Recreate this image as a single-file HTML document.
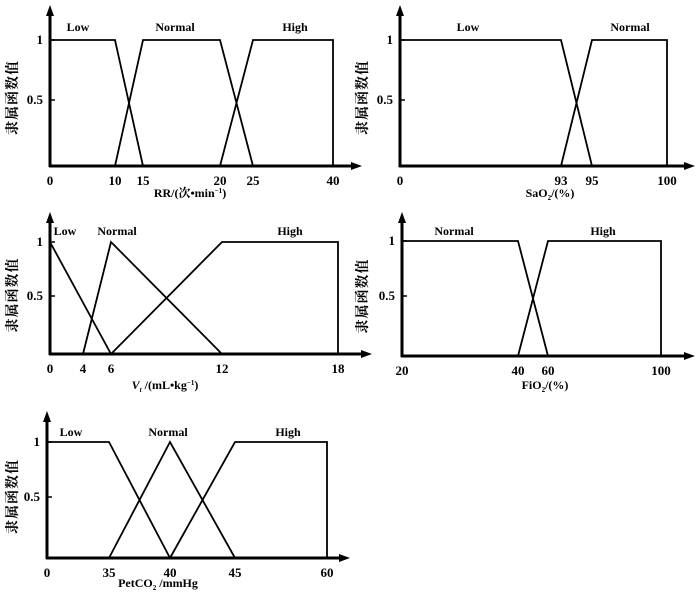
<!DOCTYPE html>
<html><head><meta charset="utf-8"><style>
html,body{margin:0;padding:0;background:#fff;}
svg{display:block;font-family:"Liberation Serif","Noto Serif CJK SC",serif;}
</style></head><body>
<svg id="fig" width="700" height="592" viewBox="0 0 700 592" xmlns="http://www.w3.org/2000/svg"></svg>
<script>
// ---- data ----
const rrTicks = [0,10,15,20,25,40];
const rrLow = [[0,1],[10,1],[15,0]];
const rrNormal = [[10,0],[15,1],[20,1],[25,0]];
const rrHigh = [[20,0],[25,1],[40,1],[40,0]];

const saoTicks = [0,93,95,100];
const saoLow = [[0,1],[93,1],[95,0]];
const saoNormal = [[93,0],[95,1],[100,1],[100,0]];

const vtTicks = [0,4,6,12,18];
const vtLow = [[0,1],[6,0]];
const vtNormal = [[4,0],[6,1],[12,0]];
const vtHigh = [[6,0],[12,1],[18,1],[18,0]];

const fioTicks = [20,40,60,100];
const fioNormal = [[20,1],[40,1],[60,0]];
const fioHigh = [[40,0],[60,1],[100,1],[100,0]];

const petTicks = [0,35,40,45,60];
const petLow = [[0,1],[35,1],[40,0]];
const petNormal = [[35,0],[40,1],[45,0]];
const petHigh = [[40,0],[45,1],[60,1],[60,0]];

const yTickLabels = ["1","0.5"];
const yTickValues = [1,0.5];

// ---- layout (pixel anchors for each tick, not data) ----
const charts = [
 {name:"rr", ox:50, top:5, base:166, y1:40, y05:100, xEnd:362, ticks:rrTicks, px:[50,115,143,220,253,333],
  series:[["low",rrLow,"Low",78],["normal",rrNormal,"Normal",175],["high",rrHigh,"High",295]], catY:31,
  title:'RR/(次•min<tspan dy="-4" font-size="7">−1</tspan><tspan dy="4">)</tspan>', titleX:190, titleY:197, ylabX:12},
 {name:"sao2", ox:400, top:5, base:166, y1:40, y05:100, xEnd:695, ticks:saoTicks, px:[400,561,592,667],
  series:[["low",saoLow,"Low",468],["normal",saoNormal,"Normal",630]], catY:31,
  title:'SaO<tspan dy="3" font-size="7">2</tspan><tspan dy="-3">/(%)</tspan>', titleX:550, titleY:197, ylabX:362},
 {name:"vt", ox:50, top:212, base:354, y1:242, y05:296, xEnd:372, ticks:vtTicks, px:[50,83,111,222,338],
  series:[["low",vtLow,"Low",65],["normal",vtNormal,"Normal",117],["high",vtHigh,"High",290]], catY:235,
  title:'<tspan font-style="italic">V</tspan><tspan dy="3" font-size="7" font-style="italic">t</tspan><tspan dy="-3"> /(mL•kg</tspan><tspan dy="-4" font-size="7">−1</tspan><tspan dy="4">)</tspan>', titleX:165, titleY:389, ylabX:12},
 {name:"fio2", ox:402, top:212, base:356, y1:241, y05:296, xEnd:695, ticks:fioTicks, px:[402,518,548,661],
  series:[["normal",fioNormal,"Normal",454],["high",fioHigh,"High",603]], catY:235,
  title:'FiO<tspan dy="3" font-size="7">2</tspan><tspan dy="-3">/(%)</tspan>', titleX:545, titleY:389, ylabX:362},
 {name:"petco2", ox:47, top:411, base:558, y1:442, y05:497, xEnd:350, ticks:petTicks, px:[47,109,170,235,327],
  series:[["low",petLow,"Low",71],["normal",petNormal,"Normal",168],["high",petHigh,"High",288]], catY:436,
  title:'PetCO<tspan dy="3" font-size="7">2</tspan><tspan dy="-3"> /mmHg</tspan>', titleX:158, titleY:587, ylabX:12}
];

const NS="http://www.w3.org/2000/svg";
const svg=document.getElementById('fig');
function mk(tag,attrs,parent){const e=document.createElementNS(NS,tag);for(const k in attrs)e.setAttribute(k,attrs[k]);(parent||svg).appendChild(e);return e;}

charts.forEach(c=>{
  const g=mk('g',{});
  
  
  const xs=v=>{const t=c.ticks,p=c.px;if(v<=t[0])return p[0];for(let i=1;i<t.length;i++){if(v<=t[i])return p[i-1]+(v-t[i-1])/(t[i]-t[i-1])*(p[i]-p[i-1]);}const n=t.length-1;return p[n]+(v-t[n])/(t[n]-t[n-1])*(p[n]-p[n-1]);};
  const ys=v=>v<=0.5?c.base+(c.y05-c.base)*(v/0.5):c.y05+(c.y1-c.y05)*((v-0.5)/0.5);
  const ya=mk('line',{x1:c.ox,y1:c.base+1,x2:c.ox,y2:c.top+10,stroke:'#000','stroke-width':3},g);
  
  
  const yh=mk('polygon',{points:`${c.ox-4},${c.top+11} ${c.ox+4},${c.top+11} ${c.ox},${c.top}`,fill:'#000'},g);
  
  
  const xa=mk('line',{x1:c.ox-1,y1:c.base,x2:c.xEnd-10,y2:c.base,stroke:'#000','stroke-width':3},g);
  
  
  const xh=mk('polygon',{points:`${c.xEnd-11},${c.base-4} ${c.xEnd-11},${c.base+4} ${c.xEnd},${c.base}`,fill:'#000'},g);
  
  
  yTickValues.forEach((v,i)=>{
    const y=ys(v);
    const tk=mk('line',{x1:c.ox,y1:y,x2:c.ox+5,y2:y,stroke:'#000','stroke-width':1.5},g);
    
    
    const t=mk('text',{x:c.ox-7,y:y+4,'font-size':13,'font-weight':'bold','text-anchor':'end'},g);
    t.textContent=yTickLabels[i];
    
    
  });
  c.ticks.forEach(v=>{
    const t=mk('text',{x:xs(v),y:c.base+19,'font-size':13,'font-weight':'bold','text-anchor':'middle'},g);
    t.textContent=String(v);
    
    
  });
  const yl=mk('text',{x:0,y:0,'font-size':14,'font-weight':'bold','letter-spacing':1,'text-anchor':'middle',transform:`translate(${c.ylabX+5},${(c.top+c.base)/2+12}) rotate(-90)`,'font-family':'"Noto Serif CJK SC","Noto Sans CJK SC",serif'},g);
  yl.textContent='隶属函数值';
  
  
  const xt=mk('text',{x:c.titleX,y:c.titleY,'font-size':12,'font-weight':'bold','text-anchor':'middle'},g);
  xt.innerHTML=c.title;
  
  
  c.series.forEach(s=>{
    const pts=s[1].map(p=>xs(p[0]).toFixed(1)+','+ys(p[1]).toFixed(1)).join(' ');
    const pl=mk('polyline',{points:pts,fill:'none',stroke:'#000','stroke-width':1.8,'stroke-linejoin':'miter'},g);
    
    
    const lb=mk('text',{x:s[3],y:c.catY,'font-size':12,'font-weight':'bold','text-anchor':'middle'},g);
    lb.textContent=s[2];
    
    
  });
});
</script>
</body></html>
